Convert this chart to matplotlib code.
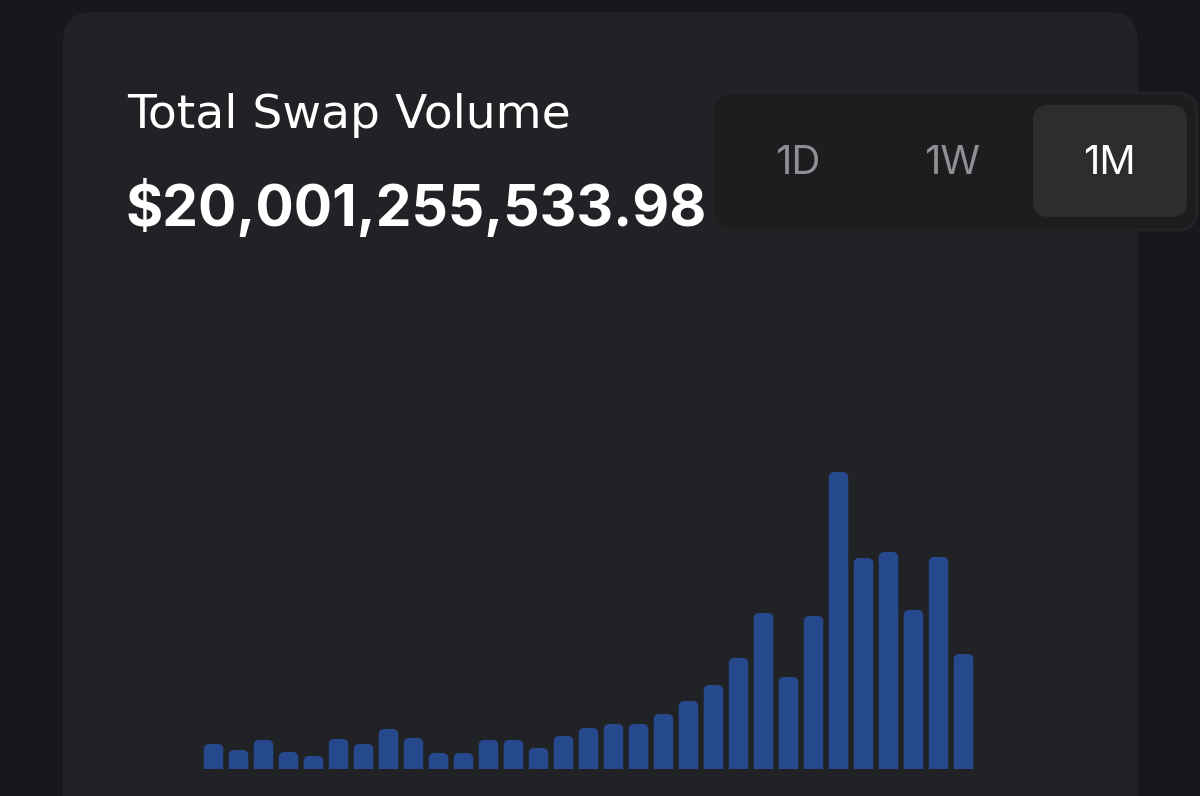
import matplotlib
matplotlib.use("Agg")
import matplotlib.pyplot as plt
from matplotlib.patches import FancyBboxPatch

# ---- data ----
title = "Total Swap Volume"
total_label = "$20,001,255,533.98"
ranges = ["1D", "1W", "1M"]
selected_range = "1M"
days = list(range(31))
volumes = [25, 19, 29, 17, 13, 30, 25, 40, 31, 16, 16, 29, 29, 21, 33, 41,
           45, 45, 55, 68, 84, 111, 156, 92, 153, 297, 211, 217, 159, 212, 115]

# ---- style ----
OUTER = "#17181c"
CARD = "#212226"
PANEL = "#1d1d1f"
PANEL_EDGE = "#232325"
SEL = "#2d2d2f"
BAR = "#26488c"
W, H = 1200, 796

fig = plt.figure(figsize=(W / 100, H / 100), dpi=100, facecolor=OUTER)
bg = fig.add_axes([0, 0, 1, 1])
bg.set_xlim(0, W)
bg.set_ylim(H, 0)
bg.axis("off")
bg.set_facecolor(OUTER)

# card
bg.add_patch(FancyBboxPatch((63, 12), 1138 - 63, 900, boxstyle="round,pad=0,rounding_size=30",
                            fc=CARD, ec="none"))
# range panel
bg.add_patch(FancyBboxPatch((713, 93), 1197 - 713, 230 - 93, boxstyle="round,pad=0,rounding_size=20",
                            fc=PANEL, ec=PANEL_EDGE, lw=2))
bg.add_patch(FancyBboxPatch((1033, 105), 1187 - 1033, 217 - 105, boxstyle="round,pad=0,rounding_size=16",
                            fc=SEL, ec="none"))

range_x = [798, 952, 1109]
for lab, x in zip(ranges, range_x):
    bg.text(x, 163, lab, ha="center", va="center", fontsize=29, family="Inter",
            color="#ffffff" if lab == selected_range else "#8e8e93")

bg.text(127, 128, title, ha="left", va="baseline", fontsize=34, family="DejaVu Sans",
        color="#ffffff")
bg.text(125, 226, total_label, ha="left", va="baseline", fontsize=41, family="Inter",
        fontweight="bold", color="#ffffff")

# ---- bars ----
left_px, right_px = 201, 976
base_px, top_px = 769, 449
ax = fig.add_axes([left_px / W, (H - base_px) / H, (right_px - left_px) / W, (base_px - top_px) / H])
ax.set_xlim(-0.5, len(days) - 0.5)
ax.set_ylim(0, base_px - top_px)
ax.axis("off")
ax.patch.set_alpha(0)

px_per_x = (right_px - left_px) / len(days)
px_per_y = 1.0
bar_w = 19.5 / px_per_x
r_x = 5.5 / px_per_x
aspect = (1 / px_per_y) / (1 / px_per_x)
ext = 8
for d, v in zip(days, volumes):
    ax.add_patch(FancyBboxPatch((d - bar_w / 2, -ext), bar_w, v + ext,
                                boxstyle=f"round,pad=0,rounding_size={r_x}",
                                mutation_aspect=aspect, fc=BAR, ec="none"))

fig.savefig("out.png", dpi=100, facecolor=OUTER)
